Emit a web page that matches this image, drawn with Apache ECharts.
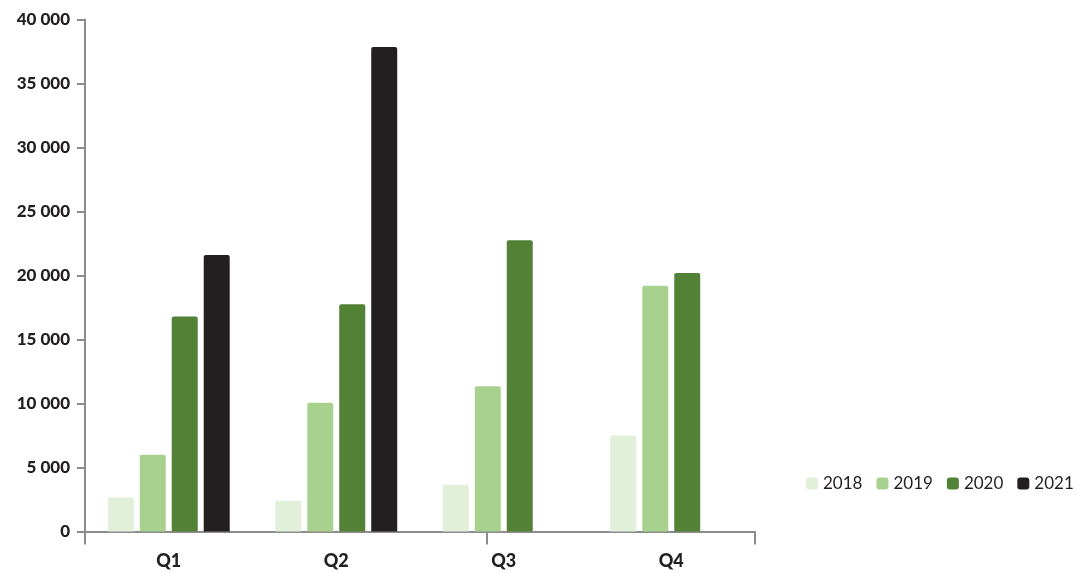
<!DOCTYPE html>
<html>
<head>
<meta charset="utf-8">
<script src="https://cdn.jsdelivr.net/npm/echarts@6/dist/echarts.min.js"></script>
<style>
html,body{margin:0;padding:0;background:#fff;}
#chart{width:1078px;height:573px;}
</style>
</head>
<body>
<div id="chart"></div>
<script>
var categories = ['Q1', 'Q2', 'Q3', 'Q4'];
var years = ['2018', '2019', '2020', '2021'];
var values2018 = [2650, 2400, 3650, 7500];
var values2019 = [6000, 10050, 11350, 19200];
var values2020 = [16800, 17750, 22750, 20200];
var values2021 = [21600, 37850, null, null];
var yTicks = { min: 0, max: 40000, interval: 5000 };
var colors = ['#e2efd9', '#a9d18e', '#538135', '#231f20'];

var FONT = 'Lato, "Open Sans", sans-serif';
var AXIS_GRAY = '#8c8c8c';
var TEXT = '#231f20';

var chart = echarts.init(document.getElementById('chart'), null, { renderer: 'canvas' });

function fmt(v) {
  return String(v).replace(/\B(?=(\d{3})+(?!\d))/g, ' ');
}

var seriesData = [values2018, values2019, values2020, values2021];

chart.setOption({
  animation: false,
  backgroundColor: '#fff',
  color: colors,
  grid: { left: 85, right: 323, top: 19.5, bottom: 41.5 },
  legend: {
    data: years,
    orient: 'horizontal',
    left: 806,
    top: 475,
    width: 600,
    padding: 0,
    itemWidth: 12,
    itemHeight: 12,
    itemGap: 14,
    icon: 'roundRect',
    textStyle: { fontFamily: FONT, fontSize: 17, color: TEXT }
  },
  xAxis: [{
    type: 'category',
    data: categories,
    axisLine: { show: true, lineStyle: { color: AXIS_GRAY, width: 2 } },
    axisTick: { show: false },
    axisLabel: { fontFamily: FONT, fontWeight: 900, fontSize: 18, color: TEXT, margin: 21 },
    splitLine: { show: false }
  }, {
    type: 'value',
    position: 'bottom',
    min: 0,
    max: 4,
    axisLine: { show: false },
    axisTick: { show: true, length: 13, customValues: [0, 2.4, 4], lineStyle: { color: AXIS_GRAY, width: 2 } },
    axisLabel: { show: false },
    splitLine: { show: false }
  }],
  yAxis: {
    type: 'value',
    min: yTicks.min,
    max: yTicks.max,
    interval: yTicks.interval,
    axisLine: { show: true, lineStyle: { color: AXIS_GRAY, width: 2 } },
    axisTick: { show: true, length: 8, lineStyle: { color: AXIS_GRAY, width: 2 } },
    axisLabel: { fontFamily: FONT, fontWeight: 900, fontSize: 17, color: TEXT, margin: 15, formatter: fmt },
    splitLine: { show: false }
  },
  series: years.map(function (y, i) {
    return {
      name: y,
      type: 'bar',
      xAxisIndex: 0,
      data: seriesData[i],
      barWidth: 26,
      barGap: '23%',
      itemStyle: { color: colors[i], borderRadius: [2, 2, 0, 0] }
    };
  })
});
</script>
</body>
</html>
